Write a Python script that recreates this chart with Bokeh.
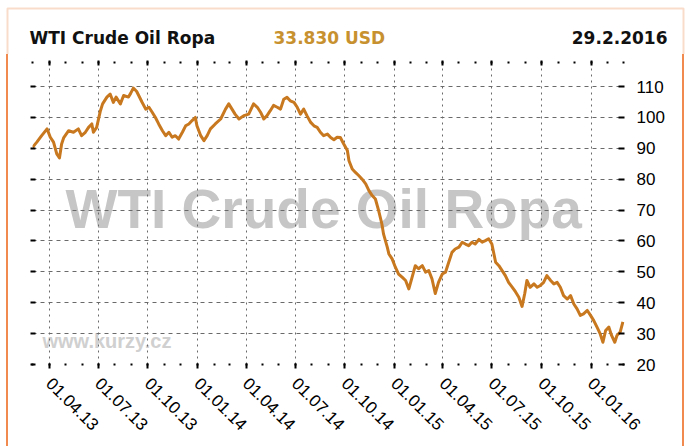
import math
import pandas as pd
from bokeh.plotting import figure
from bokeh.layouts import column, row
from bokeh.models import (FixedTicker, DatetimeAxis, LinearAxis, DatetimeTickFormatter,
                          Label, BoxAnnotation, Range1d, ColumnDataSource, Spacer)
from bokeh.embed import file_html
from bokeh.resources import INLINE

# ---- data ----
DATES = [
    "2013-03-01", "2013-03-09", "2013-03-18", "2013-03-28", "2013-04-03", "2013-04-09",
    "2013-04-15", "2013-04-20", "2013-04-24", "2013-04-28", "2013-05-07", "2013-05-16",
    "2013-05-25", "2013-05-31", "2013-06-07", "2013-06-13", "2013-06-19", "2013-06-22",
    "2013-06-28", "2013-07-05", "2013-07-09", "2013-07-17", "2013-07-23", "2013-07-29",
    "2013-08-03", "2013-08-11", "2013-08-17", "2013-08-26", "2013-08-30", "2013-09-04",
    "2013-09-10", "2013-09-14", "2013-09-20", "2013-09-27", "2013-10-03", "2013-10-09",
    "2013-10-15", "2013-10-21", "2013-10-28", "2013-11-03", "2013-11-09", "2013-11-15",
    "2013-11-21", "2013-11-27", "2013-12-04", "2013-12-10", "2013-12-16", "2013-12-22",
    "2013-12-28", "2013-12-31", "2014-01-07", "2014-01-13", "2014-01-19", "2014-01-25",
    "2014-02-03", "2014-02-13", "2014-02-22", "2014-02-28", "2014-03-06", "2014-03-12",
    "2014-03-19", "2014-03-28", "2014-04-06", "2014-04-15", "2014-04-22", "2014-04-28",
    "2014-05-04", "2014-05-10", "2014-05-16", "2014-05-22", "2014-05-29", "2014-06-04",
    "2014-06-10", "2014-06-16", "2014-06-22", "2014-06-29", "2014-07-05", "2014-07-11",
    "2014-07-17", "2014-07-23", "2014-07-30", "2014-08-05", "2014-08-11", "2014-08-17",
    "2014-08-23", "2014-08-30", "2014-09-05", "2014-09-11", "2014-09-17", "2014-09-23",
    "2014-09-29", "2014-10-06", "2014-10-09", "2014-10-15", "2014-10-21", "2014-10-27",
    "2014-11-02", "2014-11-09", "2014-11-15", "2014-11-21", "2014-11-27", "2014-12-03",
    "2014-12-09", "2014-12-12", "2014-12-19", "2014-12-22", "2014-12-28", "2015-01-03",
    "2015-01-09", "2015-01-16", "2015-01-22", "2015-01-28", "2015-02-03", "2015-02-09",
    "2015-02-15", "2015-02-22", "2015-02-28", "2015-03-06", "2015-03-12", "2015-03-18",
    "2015-03-24", "2015-03-31", "2015-04-06", "2015-04-12", "2015-04-18", "2015-04-24",
    "2015-05-01", "2015-05-07", "2015-05-13", "2015-05-19", "2015-05-25", "2015-05-31",
    "2015-06-07", "2015-06-13", "2015-06-19", "2015-06-25", "2015-07-01", "2015-07-08",
    "2015-07-14", "2015-07-20", "2015-07-26", "2015-08-01", "2015-08-08", "2015-08-14",
    "2015-08-20", "2015-08-26", "2015-08-31", "2015-09-04", "2015-09-10", "2015-09-17",
    "2015-09-23", "2015-09-29", "2015-10-05", "2015-10-11", "2015-10-18", "2015-10-24",
    "2015-10-30", "2015-11-05", "2015-11-11", "2015-11-18", "2015-11-24", "2015-11-30",
    "2015-12-06", "2015-12-12", "2015-12-18", "2015-12-25", "2015-12-31", "2016-01-06",
    "2016-01-12", "2016-01-18", "2016-01-23", "2016-01-28", "2016-02-03", "2016-02-08",
    "2016-02-14", "2016-02-18", "2016-02-24", "2016-02-29",
]
PRICES = [
    90.3, 92.0, 94.1, 96.3, 93.6, 92.0,
    88.2, 86.9, 91.4, 93.5, 95.7, 95.2,
    96.3, 94.1, 95.2, 96.8, 97.9, 95.2,
    96.8, 102.2, 104.4, 106.6, 107.6, 104.9,
    106.6, 104.4, 107.1, 106.6, 107.8, 109.5,
    108.5, 107.1, 105.0, 102.7, 103.3, 101.7,
    100.0, 97.9, 95.7, 94.1, 95.2, 93.6,
    94.1, 93.0, 95.2, 97.3, 97.9, 99.0,
    100.0, 97.3, 94.1, 92.5, 94.1, 96.3,
    97.9, 99.5, 102.7, 104.4, 102.7, 101.0,
    99.5, 100.6, 101.1, 104.4, 103.3, 101.7,
    99.5, 100.6, 102.2, 103.9, 103.3, 102.7,
    105.9, 106.5, 105.4, 104.9, 103.3, 101.1,
    102.7, 100.6, 98.4, 97.3, 96.8, 95.2,
    94.1, 94.6, 93.5, 92.8, 93.6, 93.5,
    91.5, 89.3, 86.0, 83.3, 82.2, 81.2,
    80.1, 78.5, 76.3, 74.7, 73.6, 69.8,
    65.5, 62.3, 58.0, 55.8, 54.2, 51.5,
    49.3, 48.2, 47.2, 44.5, 48.2, 52.0,
    51.0, 52.0, 49.9, 50.4, 47.7, 43.0,
    46.6, 49.3, 49.9, 53.1, 56.3, 57.4,
    58.0, 59.6, 59.0, 58.5, 59.6, 59.0,
    60.5, 59.6, 60.1, 60.7, 59.0, 53.1,
    52.0, 50.4, 48.8, 46.6, 45.0, 43.5,
    41.8, 38.8, 43.0, 47.2, 45.0, 46.1,
    45.0, 45.6, 46.6, 48.8, 47.2, 46.1,
    46.6, 45.0, 42.3, 41.2, 42.3, 39.6,
    38.0, 35.9, 36.4, 37.5, 35.9, 34.2,
    32.1, 29.9, 27.2, 31.0, 32.1, 29.4,
    27.2, 29.4, 30.5, 33.8,
]
X_TICKS = ["2013-04-01", "2013-07-01", "2013-10-01", "2014-01-01", "2014-04-01",
           "2014-07-01", "2014-10-01", "2015-01-01", "2015-04-01", "2015-07-01",
           "2015-10-01", "2016-01-01"]
Y_TICKS = [20, 30, 40, 50, 60, 70, 80, 90, 100, 110]
TITLE = "WTI Crude Oil Ropa"
LAST_PRICE = "33.830 USD"
LAST_DATE = "29.2.2016"
WATERMARK = "WTI Crude Oil Ropa"
SITE = "www.kurzy.cz"
X_START, X_END = "2013-03-01", "2016-03-03"
Y_MIN, Y_MAX = 20, 117.8

FONT = "Liberation Sans"
HEAD_FONT = "DejaVu Sans"
LINE_COLOR = "#c8781e"
GOLD = "#c8912f"
BORDER = "#f08a4e"
GRID = "#6a6a6a"


def ms(s):
    return pd.Timestamp(s).value / 1e6


x_ticks = [ms(d) for d in X_TICKS]
month_ticks = [t.value / 1e6 for t in pd.date_range(X_START, X_END, freq="MS")]

# ---------------- header strip ----------------
head = figure(width=686, height=54, output_backend="svg", toolbar_location=None,
              x_range=Range1d(0, 686), y_range=Range1d(0, 54),
              x_axis_location=None, y_axis_location=None, min_border=0)
head.outline_line_color = None
head.grid.visible = False
head.add_layout(Label(x=29, y=17, x_units="screen", y_units="screen", text=TITLE,
                      text_font=HEAD_FONT, text_font_style="bold", text_font_size="17px",
                      text_color="#111111", text_baseline="middle", text_align="left"))
head.add_layout(Label(x=273, y=17, x_units="screen", y_units="screen", text=LAST_PRICE,
                      text_font=HEAD_FONT, text_font_style="bold", text_font_size="17px",
                      text_color=GOLD, text_baseline="middle", text_align="left"))
head.add_layout(Label(x=667, y=17, x_units="screen", y_units="screen", text=LAST_DATE,
                      text_font=HEAD_FONT, text_font_style="bold", text_font_size="17px",
                      text_color="#111111", text_baseline="middle", text_align="right"))
head.add_layout(BoxAnnotation(left=7, right=683, top=46, bottom=-20,
                              left_units="screen", right_units="screen",
                              top_units="screen", bottom_units="screen",
                              fill_color=None, line_color=BORDER, line_width=2))

# ---------------- main chart ----------------
src = ColumnDataSource(dict(date=pd.to_datetime(DATES), price=PRICES))

p = figure(width=674, height=392, output_backend="svg", toolbar_location=None,
           x_axis_type="datetime", y_axis_location="right",
           x_range=Range1d(ms(X_START), ms(X_END)), y_range=Range1d(Y_MIN, Y_MAX),
           min_border_left=24, min_border_right=58, min_border_top=8,
           min_border_bottom=82)
p.outline_line_color = None

xticker = FixedTicker(ticks=x_ticks, minor_ticks=month_ticks)
fmt = "%d.%m.%y"

xb = p.xaxis[0]
xb.ticker = xticker
xb.formatter = DatetimeTickFormatter(days=fmt, months=fmt, years=fmt,
                                     strip_leading_zeros=False)
xb.major_label_orientation = -math.pi / 4
xb.axis_line_color = None
xb.major_tick_in = 1
xb.major_tick_out = 4
xb.minor_tick_in = 1
xb.minor_tick_out = 1
xb.major_tick_line_width = 2
xb.minor_tick_line_width = 2
xb.major_tick_line_color = "black"
xb.minor_tick_line_color = "black"
xb.major_label_text_font = FONT
xb.major_label_text_font_size = "17px"
xb.major_label_text_color = "black"
xb.major_label_standoff = 12

xa = DatetimeAxis(ticker=FixedTicker(ticks=x_ticks, minor_ticks=month_ticks),
                  major_label_text_font_size="0px", major_label_text_color=None,
                  axis_line_color=None,
                  major_tick_in=3, major_tick_out=2, minor_tick_in=1, minor_tick_out=1,
                  major_tick_line_width=2, minor_tick_line_width=2,
                  major_tick_line_color="black", minor_tick_line_color="black",
                  major_label_standoff=0)
p.add_layout(xa, "above")

yticker = FixedTicker(ticks=Y_TICKS)
yr = p.yaxis[0]
yr.ticker = yticker
yr.axis_line_color = None
yr.major_tick_in = 6
yr.major_tick_out = 0
yr.minor_tick_line_color = None
yr.major_tick_line_width = 2
yr.major_tick_line_color = "black"
yr.major_label_standoff = 12
yr.major_label_text_font = FONT
yr.major_label_text_font_size = "17px"
yr.major_label_text_color = "black"

yl = LinearAxis(ticker=FixedTicker(ticks=Y_TICKS), major_label_text_font_size="0px",
                major_label_text_color=None,
                axis_line_color=None, major_tick_in=3, major_tick_out=2,
                minor_tick_line_color=None, major_tick_line_width=2,
                major_tick_line_color="black", major_label_standoff=0)
p.add_layout(yl, "left")

p.xgrid.ticker = xticker
p.ygrid.ticker = yticker
p.xgrid.grid_line_color = GRID
p.xgrid.grid_line_dash = "2 4"
p.xgrid.grid_line_width = 1
p.ygrid.grid_line_color = GRID
p.ygrid.grid_line_dash = "4 4"
p.ygrid.grid_line_width = 1

# watermarks (under the grid)
p.add_layout(Label(x=33, y=156, x_units="screen", y_units="screen", text=WATERMARK,
                   text_font=FONT, text_font_style="bold", text_font_size="55px",
                   text_color="#c6c6c6", text_baseline="middle", level="image"))
p.add_layout(Label(x=10, y=24, x_units="screen", y_units="screen", text=SITE,
                   text_font=FONT, text_font_style="bold", text_font_size="20px",
                   text_color="#d0d0d0", text_baseline="middle", level="image"))

p.line("date", "price", source=src, line_color=LINE_COLOR, line_width=3,
       line_join="round")

H = 392
body = row(Spacer(width=6, height=H),
           Spacer(width=2, height=H, styles={"background-color": BORDER}),
           p,
           Spacer(width=2, height=H, styles={"background-color": BORDER}),
           Spacer(width=2, height=H))
layout = column(head, body)

open("out.html", "w").write(file_html(layout, INLINE))
